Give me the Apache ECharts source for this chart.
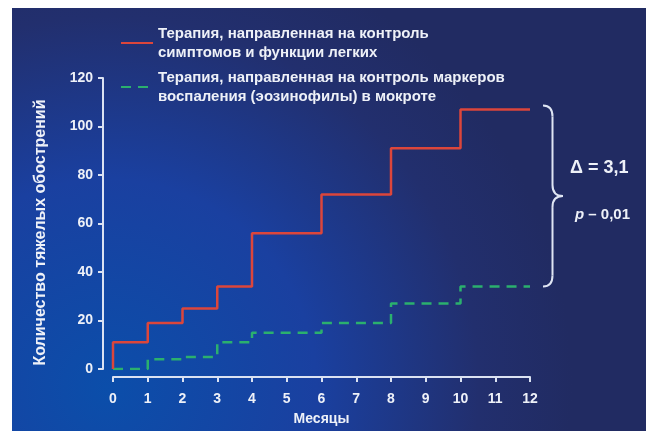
<!DOCTYPE html>
<html>
<head>
<meta charset="utf-8">
<script src="https://cdn.jsdelivr.net/npm/echarts@6/dist/echarts.min.js"></script>
<style>
  html, body { margin: 0; padding: 0; background: #ffffff; }
  #chart { position: absolute; left: 12px; top: 8px; width: 634px; height: 423px; }
</style>
</head>
<body>
<div id="chart"></div>
<script>
// Month at which each step level begins; the last level runs to the end month
const stepMonths = [0, 1, 2, 3, 4, 6, 8, 10];
const endMonth = 12;

// Cumulative number of severe exacerbations per strategy
const symptomEvents = [11, 19, 25, 34, 56, 72, 91, 107];
const eosinophilEvents = [0, 4, 5, 11, 15, 19, 27, 34];

const seriesNames = [
  'Терапия, направленная на контроль\nсимптомов и функции легких',
  'Терапия, направленная на контроль маркеров\nвоспаления (эозинофилы) в мокроте'
];

const yTicks = { min: 0, max: 120, step: 20 };
const xTicks = { min: 0, max: 12, step: 1 };

const deltaText = 'Δ = 3,1';
const pText = '{i|p} – 0,01';

const textColor = '#eef1f8';
const font = 'Liberation Sans, Arial, sans-serif';
const axisColor = '#dbe2f2';

// Step series: start at zero at month 0, then hold each level until the next month
function stepData(values) {
  const pts = [[stepMonths[0], 0]];
  stepMonths.forEach((m, i) => pts.push([m, values[i]]));
  pts.push([endMonth, values[values.length - 1]]);
  return pts;
}

const chart = echarts.init(document.getElementById('chart'));

chart.setOption({
  animation: false,
  backgroundColor: {
    type: 'radial', x: 0.15, y: 0.9, r: 1.1,
    colorStops: [
      { offset: 0, color: '#0b4eaa' },
      { offset: 0.45, color: '#1a40a0' },
      { offset: 0.8, color: '#222f6e' },
      { offset: 1, color: '#212b62' }
    ]
  },
  textStyle: { fontFamily: font },
  grid: { left: 101, top: 70, right: 116, bottom: 58, containLabel: false },
  legend: {
    left: 108, top: 16, padding: 0,
    orient: 'vertical',
    itemWidth: 32, itemHeight: 14, itemGap: 6,
    itemStyle: { opacity: 0 },
    textStyle: { color: textColor, fontSize: 15, fontWeight: 'bold', lineHeight: 19, fontFamily: font },
    data: seriesNames
  },
  xAxis: {
    type: 'value',
    min: xTicks.min, max: xTicks.max, interval: xTicks.step,
    offset: 8,
    name: 'Месяцы', nameLocation: 'middle', nameGap: 35,
    nameTextStyle: { color: textColor, fontSize: 14, fontWeight: 'bold', fontFamily: font },
    axisLine: { show: true, onZero: false, lineStyle: { color: axisColor, width: 2 } },
    axisTick: { show: true, length: 5, lineStyle: { color: axisColor, width: 2 } },
    axisLabel: { color: textColor, fontSize: 14, fontWeight: 'bold', margin: 15, fontFamily: font },
    splitLine: { show: false }
  },
  yAxis: {
    type: 'value',
    min: yTicks.min, max: yTicks.max, interval: yTicks.step,
    offset: 10,
    name: 'Количество тяжелых обострений', nameLocation: 'middle', nameGap: 54, nameRotate: 90,
    nameTextStyle: { color: textColor, fontSize: 16, fontWeight: 'bold', fontFamily: font, padding: [0, 18, 0, 0] },
    axisLine: { show: true, onZero: false, lineStyle: { color: axisColor, width: 2 } },
    axisTick: { show: true, length: 5, lineStyle: { color: axisColor, width: 2 } },
    axisLabel: { color: textColor, fontSize: 14, fontWeight: 'bold', margin: 10, fontFamily: font },
    splitLine: { show: false }
  },
  series: [
    {
      name: seriesNames[0], type: 'line', step: 'end', symbol: 'none',
      data: stepData(symptomEvents),
      lineStyle: { color: '#dc463b', width: 2.5 },
      itemStyle: { color: '#dc463b' },
      z: 3
    },
    {
      name: seriesNames[1], type: 'line', step: 'end', symbol: 'none',
      data: stepData(eosinophilEvents),
      lineStyle: { color: '#2bb06e', width: 2.5, type: [10, 7] },
      itemStyle: { color: '#2bb06e' },
      z: 2
    }
  ]
});

// Brace spanning the gap between the two final levels, with the difference annotation
const last = stepMonths.length - 1;
const topPt = chart.convertToPixel({ gridIndex: 0 }, [endMonth, symptomEvents[last]]);
const botPt = chart.convertToPixel({ gridIndex: 0 }, [endMonth, eosinophilEvents[last]]);
const x0 = topPt[0] + 13, x1 = x0 + 9.5, x2 = x0 + 20;
const yT = topPt[1] - 4, yB = botPt[1], yM = (yT + yB) / 2, r = 11;
const braceStyle = { stroke: '#dfe5f3', lineWidth: 2, fill: null };

function curve(ax, ay, cx, cy, bx, by) {
  return { type: 'bezierCurve', shape: { x1: ax, y1: ay, cpx1: cx, cpy1: cy, x2: bx, y2: by }, style: braceStyle };
}
function seg(ax, ay, bx, by) {
  return { type: 'line', shape: { x1: ax, y1: ay, x2: bx, y2: by }, style: braceStyle };
}

chart.setOption({
  graphic: [
    curve(x0, yT, x1, yT, x1, yT + r),
    seg(x1, yT + r, x1, yM - r),
    curve(x1, yM - r, x1, yM, x2, yM),
    curve(x2, yM, x1, yM, x1, yM + r),
    seg(x1, yM + r, x1, yB - r),
    curve(x1, yB - r, x1, yB, x0, yB),
    {
      type: 'text', x: x2 + 7, y: yM - 28,
      style: { text: deltaText, fill: textColor, font: `bold 18px ${font}`, verticalAlign: 'middle' }
    },
    {
      type: 'text', x: x2 + 12, y: yM + 19,
      style: {
        text: pText,
        fill: textColor, font: `bold 15px ${font}`, verticalAlign: 'middle',
        rich: { i: { fontStyle: 'italic', fontWeight: 'bold', fontSize: 15, fill: textColor, fontFamily: font } }
      }
    }
  ]
});
</script>
</body>
</html>
